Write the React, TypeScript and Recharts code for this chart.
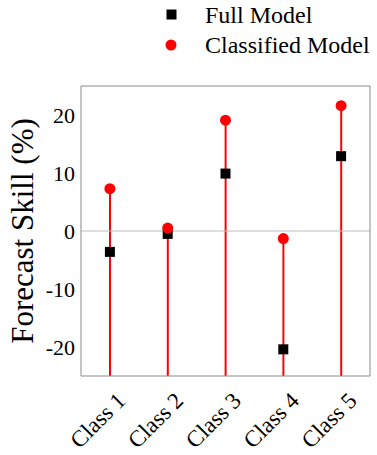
import {
  Bar,
  ComposedChart,
  Line,
  ReferenceLine,
  XAxis,
  YAxis,
} from 'recharts';

const CLASSES = ['Class 1', 'Class 2', 'Class 3', 'Class 4', 'Class 5'];
const FULL_MODEL = [-3.6, -0.5, 9.9, -20.4, 12.9];
const CLASSIFIED_MODEL = [7.3, 0.5, 19.1, -1.3, 21.6];

const Y_MIN = -25;
const Y_MAX = 25;
const MAJOR_TICKS = [-20, -10, 0, 10, 20];
const MINOR_TICKS = [-20, -15, -10, -5, 0, 5, 10, 15, 20];

const FONT = "'Liberation Serif', 'Times New Roman', serif";
const FRAME = '#8a8a8a';
const RED = '#ff0000';

// stems run from the bottom of the axis up to the classified value
const data = CLASSES.map((name, i) => ({
  name,
  full: FULL_MODEL[i],
  classified: CLASSIFIED_MODEL[i],
  stem: [Y_MIN, CLASSIFIED_MODEL[i]],
}));

const ClassTick = (props: any) => {
  const { x, y, payload } = props;
  const ax = x + 17;
  const ay = y + 26;
  return (
    <text
      x={ax}
      y={ay}
      transform={`rotate(-45, ${ax}, ${ay})`}
      textAnchor="end"
      fontFamily={FONT}
      fontSize={23}
      fill="#000"
    >
      {payload.value}
    </text>
  );
};

const squareDot = (props: any) => {
  const { cx, cy, index } = props;
  return <rect key={`sq-${index}`} x={cx - 5} y={cy - 5} width={10} height={10} fill="#000" />;
};

const circleDot = (props: any) => {
  const { cx, cy, index } = props;
  return <circle key={`ci-${index}`} cx={cx} cy={cy} r={5.5} fill={RED} />;
};

const YLabel = (props: any) => {
  const { viewBox } = props;
  const cy = viewBox.y + viewBox.height / 2;
  const bx = 33;
  return (
    <text
      x={bx}
      y={cy}
      transform={`rotate(-90, ${bx}, ${cy})`}
      textAnchor="middle"
      fontFamily={FONT}
      fontSize={31}
      fill="#000"
    >
      Forecast Skill (%)
    </text>
  );
};

const LegendBox = () => (
  <svg
    width={227}
    height={65}
    style={{ position: 'absolute', left: 150, top: 0 }}
  >
    <rect x={16.5} y={9.5} width={10} height={10} fill="#000" />
    <text x={55} y={23} fontFamily={FONT} fontSize={24} fill="#000">
      Full Model
    </text>
    <circle cx={21} cy={45} r={5.5} fill={RED} />
    <text x={55} y={53} fontFamily={FONT} fontSize={24} fill="#000">
      Classified Model
    </text>
  </svg>
);

const App = () => {
  return (
    <div style={{ position: 'absolute', left: 0, top: 0, width: 377, height: 455, background: '#fff' }}>
      <ComposedChart
        width={377}
        height={455}
        data={data}
        margin={{ top: 86, right: 7, bottom: 0, left: 0 }}
      >
        <XAxis
          xAxisId="bottom"
          dataKey="name"
          type="category"
          stroke={FRAME}
          tickLine={false}
          tickSize={0}
          tickMargin={0}
          height={79}
          interval={0}
          tick={<ClassTick />}
        />
        <XAxis
          xAxisId="top"
          dataKey="name"
          type="category"
          orientation="top"
          mirror
          stroke={FRAME}
          tick={false}
          tickSize={4}
          interval={0}
        />
        <YAxis
          yAxisId="left"
          type="number"
          domain={[Y_MIN, Y_MAX]}
          ticks={MAJOR_TICKS}
          width={81}
          stroke={FRAME}
          tickLine={false}
          tickSize={0}
          tickMargin={6}
          tick={{ fontFamily: FONT, fontSize: 22, fill: '#000' }}
          label={<YLabel />}
        />
        <YAxis
          yAxisId="leftMinor"
          type="number"
          domain={[Y_MIN, Y_MAX]}
          ticks={MINOR_TICKS}
          mirror
          axisLine={false}
          tick={false}
          tickSize={4}
          stroke={FRAME}
          width={10}
        />
        <YAxis
          yAxisId="right"
          type="number"
          orientation="right"
          domain={[Y_MIN, Y_MAX]}
          ticks={MINOR_TICKS}
          mirror
          tick={false}
          tickSize={4}
          stroke={FRAME}
          width={10}
        />
        <ReferenceLine yAxisId="left" xAxisId="bottom" y={0} stroke="#bdbdbd" strokeWidth={1} />
        {/* invisible series so the frame-only axes get drawn */}
        <Line xAxisId="top" yAxisId="leftMinor" dataKey="classified" stroke="none" dot={false} activeDot={false} isAnimationActive={false} />
        <Line xAxisId="top" yAxisId="right" dataKey="classified" stroke="none" dot={false} activeDot={false} isAnimationActive={false} />
        <Bar
          xAxisId="bottom"
          yAxisId="left"
          dataKey="stem"
          barSize={2}
          fill={RED}
          isAnimationActive={false}
        />
        <Line
          xAxisId="bottom"
          yAxisId="left"
          dataKey="full"
          stroke="none"
          dot={squareDot}
          activeDot={false}
          isAnimationActive={false}
        />
        <Line
          xAxisId="bottom"
          yAxisId="left"
          dataKey="classified"
          stroke="none"
          dot={circleDot}
          activeDot={false}
          isAnimationActive={false}
        />
      </ComposedChart>
      <LegendBox />
    </div>
  );
};

export default App;
